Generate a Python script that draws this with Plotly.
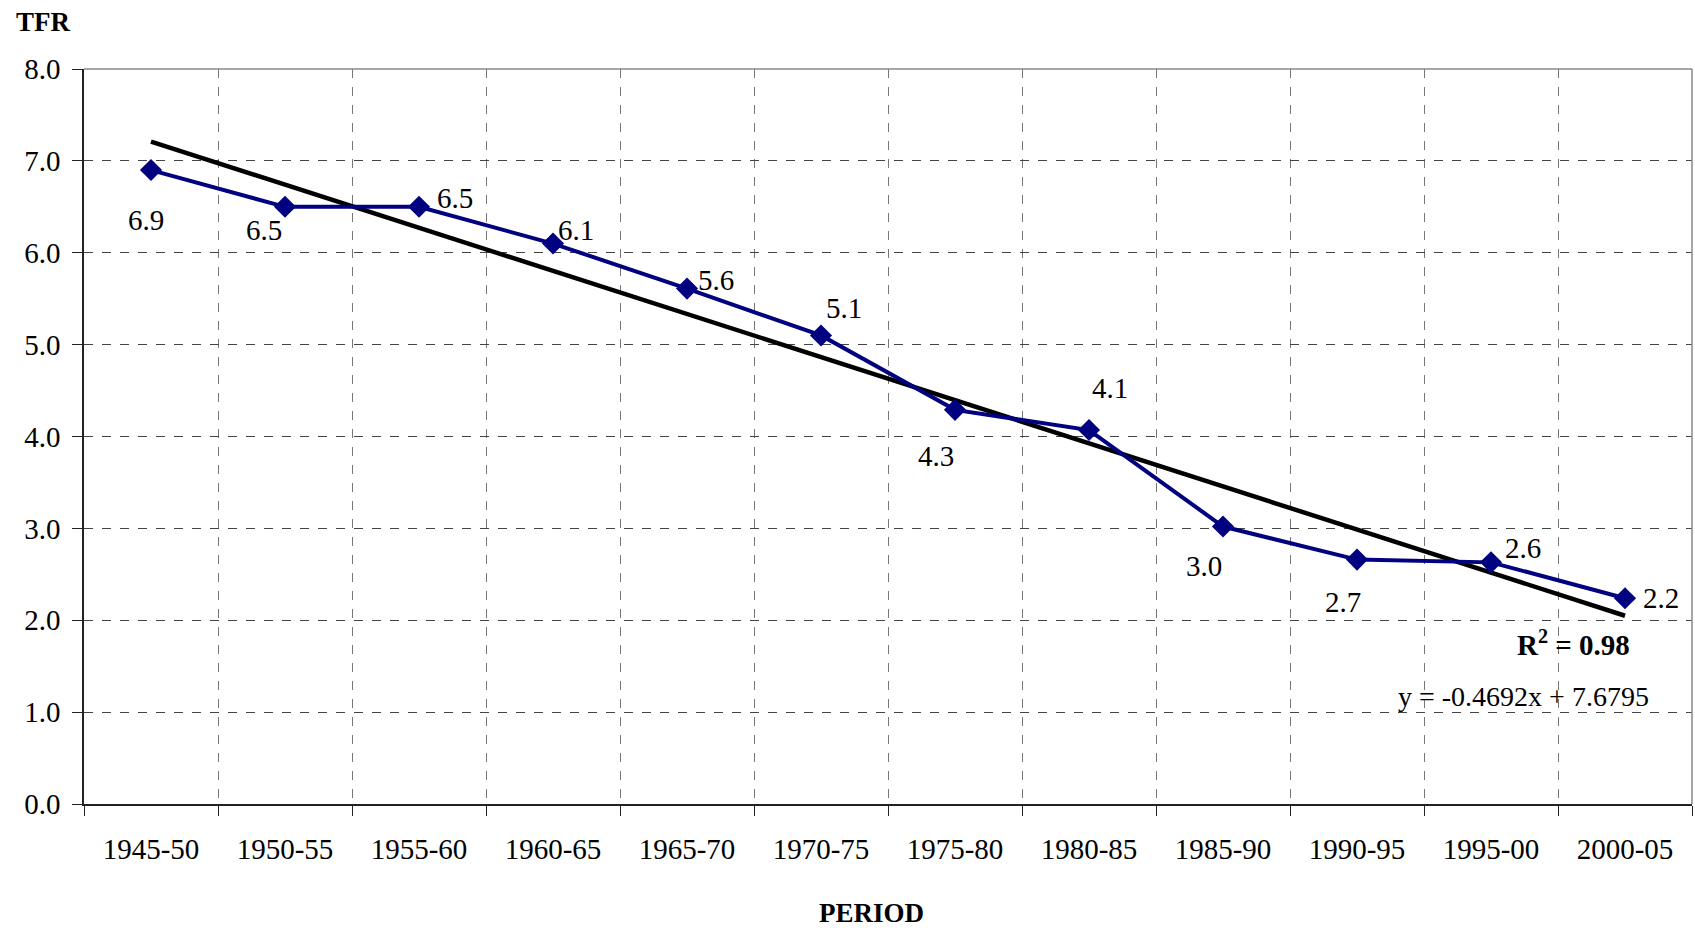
import plotly.graph_objects as go

# Total fertility rate by five-year period
periods = ["1945-50", "1950-55", "1955-60", "1960-65", "1965-70", "1970-75",
           "1975-80", "1980-85", "1985-90", "1990-95", "1995-00", "2000-05"]
tfr = [6.90, 6.50, 6.50, 6.10, 5.61, 5.10, 4.29, 4.07, 3.02, 2.66, 2.63, 2.24]

# Linear trend as printed on the chart (x = 1..12)
trend_slope = -0.4692
trend_intercept = 7.6795
r_squared = 0.98

y_ticks = [0, 1, 2, 3, 4, 5, 6, 7, 8]

# label offsets in pixels (xshift, yshift) for each data label
label_offsets = [(-5, -50), (-21, -23), (36, 9), (23, 14), (29, 9), (23, 27),
                 (-19, -46), (21, 42), (-19, -39), (-14, -42), (32, 14), (36, 0)]

FONT = "Liberation Serif"
NAVY = "#000080"

fig = go.Figure()

# trend line between first and last period
trend_x = [periods[0], periods[-1]]
trend_y = [trend_intercept + trend_slope * 1,
           trend_intercept + trend_slope * len(periods)]
fig.add_scatter(x=trend_x, y=trend_y, mode="lines",
                line=dict(color="black", width=4.5), showlegend=False,
                hoverinfo="skip")

fig.add_scatter(x=periods, y=tfr, mode="lines+markers",
                line=dict(color=NAVY, width=4),
                marker=dict(symbol="diamond", size=17, color=NAVY),
                showlegend=False)

for p, v, (dx, dy) in zip(periods, tfr, label_offsets):
    fig.add_annotation(x=p, y=v, text=f"{v:.1f}", showarrow=False,
                       xshift=dx, yshift=dy,
                       xanchor="center", yanchor="middle",
                       font=dict(family=FONT, size=29, color="black"))

fig.add_annotation(xref="paper", yref="paper", x=0.926, y=0.219,
                   xanchor="center", yanchor="middle",
                   text=f"<b>R<sup>2</sup> = {r_squared:.2f}</b>",
                   showarrow=False, font=dict(family=FONT, size=29, color="black"))
fig.add_annotation(xref="paper", yref="paper", x=0.8955, y=0.1456,
                   xanchor="center", yanchor="middle",
                   text=f"y = {trend_slope:.4f}x + {trend_intercept:.4f}",
                   showarrow=False, font=dict(family=FONT, size=28, color="black"))

# axis titles as free text, like the original
fig.add_annotation(xref="paper", yref="paper", x=-0.0249, y=1.064,
                   xanchor="center", yanchor="middle",
                   text="<b>TFR</b>", showarrow=False,
                   font=dict(family=FONT, size=27, color="black"))
fig.add_annotation(xref="paper", yref="paper", x=0.4895, y=-0.148,
                   xanchor="center", yanchor="middle",
                   text="<b>PERIOD</b>", showarrow=False,
                   font=dict(family=FONT, size=27, color="black"))

# grey top and right frame
fig.add_shape(type="line", xref="paper", yref="paper", x0=0, x1=1, y0=1, y1=1,
              line=dict(color="#888", width=1.5))
fig.add_shape(type="line", xref="paper", yref="paper", x0=1, x1=1, y0=0, y1=1,
              line=dict(color="#888", width=1.5))

fig.update_xaxes(
    type="category", categoryorder="array", categoryarray=periods,
    range=[-0.5, len(periods) - 0.5],
    tickson="boundaries",
    showgrid=True, gridcolor="#777", griddash="dash", gridwidth=1,
    showline=True, linecolor="#222", linewidth=1.5,
    ticks="outside", ticklen=10, tickcolor="#222",
    ticklabelstandoff=18,
    tickfont=dict(family=FONT, size=29, color="black"),
)
fig.update_yaxes(
    range=[0, 8], tickvals=y_ticks, tickformat=".1f",
    showgrid=True, gridcolor="#444", griddash="dash", gridwidth=1,
    zeroline=False,
    showline=True, linecolor="#222", linewidth=1.5,
    ticks="outside", ticklen=10, tickcolor="#222",
    ticklabelstandoff=6,
    tickfont=dict(family=FONT, size=29, color="black"),
)

fig.update_layout(
    width=1695, height=930,
    margin=dict(l=84, r=3, t=69, b=126),
    plot_bgcolor="white", paper_bgcolor="white",
    font=dict(family=FONT, color="black"),
)

fig.write_html("out.html", config={"displayModeBar": False},
               post_script="document.body.style.margin='0';"
                           "document.body.style.overflow='hidden';")
